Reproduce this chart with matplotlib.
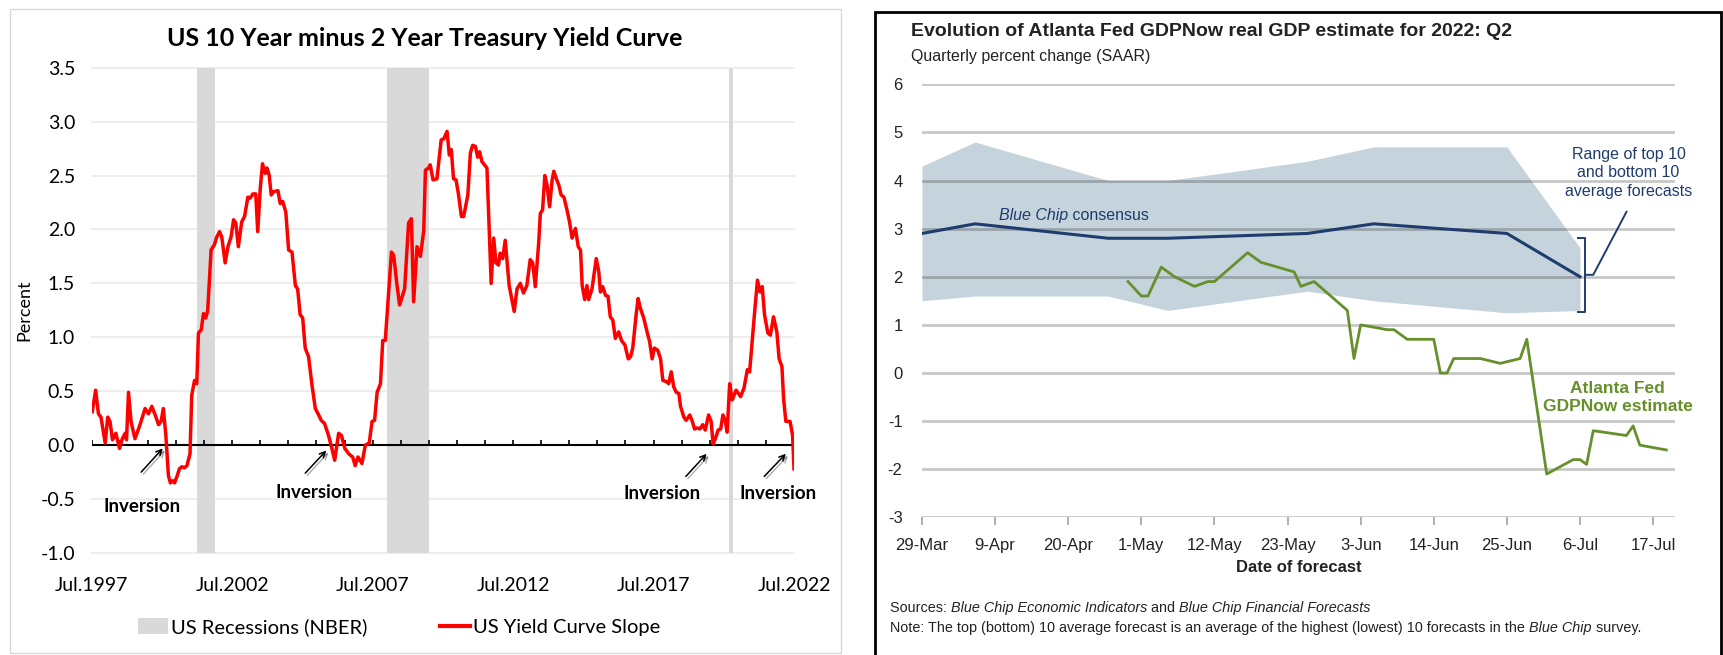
import matplotlib
matplotlib.use('Agg')
import numpy as np
import matplotlib.pyplot as plt
import matplotlib.dates as mdates
import matplotlib.patheffects as pe
from matplotlib.patches import Rectangle, Patch
from matplotlib.lines import Line2D

W, H = 1723, 655

NARROW = ['Lato', 'DejaVu Sans']
SANS = ['Liberation Sans', 'DejaVu Sans']

# ---- left chart: 10y minus 2y spread ----
yc_year = [
    1997.52, 1997.64, 1997.74, 1997.83, 1997.98, 1998.07, 1998.15, 1998.24, 1998.36, 1998.49,
    1998.59, 1998.69, 1998.74, 1998.81, 1998.90, 1999.04, 1999.22, 1999.40, 1999.52, 1999.64,
    1999.76, 1999.88, 1999.97, 2000.05, 2000.14, 2000.23, 2000.30, 2000.38, 2000.45, 2000.55,
    2000.62, 2000.71, 2000.80, 2000.89, 2001.00, 2001.06, 2001.16, 2001.24, 2001.30, 2001.40,
    2001.48, 2001.56, 2001.63, 2001.75, 2001.87, 2001.95, 2002.05, 2002.13, 2002.25, 2002.35,
    2002.46, 2002.55, 2002.63, 2002.72, 2002.84, 2002.94, 2003.06, 2003.14, 2003.24, 2003.34,
    2003.41, 2003.50, 2003.58, 2003.68, 2003.74, 2003.82, 2003.89, 2003.97, 2004.13, 2004.21,
    2004.30, 2004.41, 2004.51, 2004.63, 2004.75, 2004.83, 2004.92, 2005.01, 2005.10, 2005.22,
    2005.34, 2005.46, 2005.58, 2005.67, 2005.79, 2005.93, 2006.05, 2006.15, 2006.29, 2006.39,
    2006.51, 2006.65, 2006.79, 2006.88, 2006.98, 2007.12, 2007.24, 2007.38, 2007.48, 2007.57,
    2007.66, 2007.78, 2007.86, 2007.95, 2008.17, 2008.25, 2008.37, 2008.46, 2008.64, 2008.78,
    2008.88, 2008.96, 2009.08, 2009.20, 2009.32, 2009.38, 2009.49, 2009.55, 2009.65, 2009.79,
    2009.94, 2010.03, 2010.15, 2010.23, 2010.30, 2010.38, 2010.47, 2010.56, 2010.66, 2010.74,
    2010.89, 2010.98, 2011.06, 2011.16, 2011.24, 2011.31, 2011.39, 2011.57, 2011.72, 2011.81,
    2011.89, 2011.98, 2012.04, 2012.13, 2012.22, 2012.36, 2012.54, 2012.64, 2012.76, 2012.87,
    2012.99, 2013.11, 2013.20, 2013.29, 2013.41, 2013.47, 2013.55, 2013.63, 2013.71, 2013.80,
    2013.89, 2013.95, 2014.04, 2014.13, 2014.21, 2014.31, 2014.42, 2014.51, 2014.60, 2014.72,
    2014.82, 2014.90, 2014.96, 2015.05, 2015.13, 2015.19, 2015.31, 2015.46, 2015.55, 2015.61,
    2015.69, 2015.79, 2015.88, 2015.96, 2016.05, 2016.14, 2016.26, 2016.36, 2016.48, 2016.60,
    2016.68, 2016.76, 2016.88, 2016.95, 2017.03, 2017.15, 2017.27, 2017.36, 2017.45, 2017.53,
    2017.65, 2017.75, 2017.83, 2017.95, 2018.04, 2018.13, 2018.22, 2018.31, 2018.40, 2018.46,
    2018.58, 2018.66, 2018.79, 2018.88, 2018.96, 2019.05, 2019.15, 2019.25, 2019.34, 2019.46,
    2019.55, 2019.62, 2019.70, 2019.80, 2019.89, 2019.97, 2020.06, 2020.12, 2020.21, 2020.30,
    2020.44, 2020.60, 2020.72, 2020.84, 2020.92, 2021.01, 2021.11, 2021.20, 2021.29, 2021.37,
    2021.45, 2021.57, 2021.66, 2021.77, 2021.89, 2021.97, 2022.07, 2022.13, 2022.21, 2022.36,
    2022.45, 2022.50,
]
yc_value = [
    0.31, 0.51, 0.29, 0.26, 0.02, 0.26, 0.22, 0.05, 0.11, -0.03,
    0.06, 0.11, 0.05, 0.49, 0.22, 0.06, 0.19, 0.34, 0.29, 0.36,
    0.28, 0.19, 0.22, 0.34, 0.09, -0.28, -0.35, -0.33, -0.35, -0.28,
    -0.22, -0.20, -0.21, -0.19, -0.08, 0.46, 0.60, 0.57, 1.04, 1.07,
    1.22, 1.18, 1.25, 1.81, 1.86, 1.93, 1.98, 1.93, 1.69, 1.84,
    1.93, 2.09, 2.06, 1.84, 2.07, 2.12, 2.30, 2.29, 2.33, 2.33,
    1.98, 2.38, 2.61, 2.52, 2.57, 2.50, 2.32, 2.35, 2.36, 2.24,
    2.26, 2.16, 1.81, 1.79, 1.48, 1.45, 1.21, 1.18, 0.90, 0.82,
    0.56, 0.34, 0.28, 0.23, 0.20, 0.09, -0.03, -0.14, 0.11, 0.09,
    -0.03, -0.08, -0.11, -0.19, -0.11, -0.17, 0.00, 0.02, 0.22, 0.23,
    0.49, 0.57, 0.97, 0.97, 1.79, 1.76, 1.48, 1.30, 1.45, 2.06,
    2.10, 1.33, 1.84, 1.75, 1.99, 2.55, 2.57, 2.60, 2.46, 2.47,
    2.83, 2.84, 2.91, 2.69, 2.74, 2.47, 2.46, 2.32, 2.12, 2.12,
    2.32, 2.71, 2.78, 2.77, 2.67, 2.72, 2.63, 2.57, 1.50, 1.92,
    1.69, 1.67, 1.78, 1.73, 1.90, 1.48, 1.24, 1.45, 1.50, 1.41,
    1.48, 1.72, 1.69, 1.47, 1.87, 2.15, 2.18, 2.50, 2.41, 2.21,
    2.46, 2.54, 2.47, 2.41, 2.32, 2.30, 2.18, 2.07, 1.92, 2.01,
    1.84, 1.81, 1.48, 1.35, 1.48, 1.35, 1.45, 1.73, 1.61, 1.42,
    1.47, 1.39, 1.38, 1.19, 1.16, 0.99, 1.05, 0.97, 0.93, 0.80,
    0.82, 0.90, 1.21, 1.36, 1.27, 1.18, 1.05, 0.96, 0.80, 0.90,
    0.88, 0.80, 0.60, 0.59, 0.57, 0.68, 0.54, 0.49, 0.48, 0.36,
    0.26, 0.23, 0.28, 0.22, 0.15, 0.16, 0.15, 0.19, 0.14, 0.28,
    0.22, 0.01, 0.06, 0.14, 0.15, 0.28, 0.22, 0.12, 0.57, 0.42,
    0.51, 0.45, 0.53, 0.70, 0.68, 0.96, 1.27, 1.53, 1.42, 1.47,
    1.21, 1.04, 1.02, 1.19, 1.05, 0.80, 0.73, 0.43, 0.22, 0.22,
    0.09, -0.22,
]
recessions = [(2001.25, 2001.90), (2008.00, 2009.50), (2020.17, 2020.33)]
yc_xticks = [1997.5, 2002.5, 2007.5, 2012.5, 2017.5, 2022.5]
yc_xlabels = ['Jul.1997', 'Jul.2002', 'Jul.2007', 'Jul.2012', 'Jul.2017', 'Jul.2022']
# (arrow tail, arrow head, label position)
inversions = [
    ((1999.26, -0.25), (2000.03, -0.03), (1999.30, -0.57)),
    ((2005.10, -0.26), (2005.85, -0.05), (2005.41, -0.44)),
    ((2018.65, -0.29), (2019.39, -0.08), (2017.81, -0.45)),
    ((2021.44, -0.29), (2022.21, -0.08), (2021.92, -0.45)),
]

# ---- right chart: GDPNow vs Blue Chip ----
bc_dates = ['2022-03-29', '2022-04-06', '2022-04-26', '2022-05-05',
            '2022-05-26', '2022-06-05', '2022-06-25', '2022-07-06']
bc_top10 = [4.3, 4.8, 4.0, 4.0, 4.4, 4.7, 4.7, 2.6]
bc_bottom10 = [1.5, 1.6, 1.6, 1.3, 1.7, 1.5, 1.25, 1.3]
bc_consensus = [2.9, 3.1, 2.8, 2.8, 2.9, 3.1, 2.9, 2.0]

gdpnow_dates = ['2022-04-29', '2022-05-01', '2022-05-02', '2022-05-04', '2022-05-06',
                '2022-05-09', '2022-05-11', '2022-05-12', '2022-05-17', '2022-05-19',
                '2022-05-24', '2022-05-25', '2022-05-27', '2022-06-01', '2022-06-02',
                '2022-06-03', '2022-06-07', '2022-06-08', '2022-06-10', '2022-06-14',
                '2022-06-15', '2022-06-16', '2022-06-17', '2022-06-21', '2022-06-24',
                '2022-06-27', '2022-06-28', '2022-07-01', '2022-07-03', '2022-07-05',
                '2022-07-06', '2022-07-07', '2022-07-08', '2022-07-13', '2022-07-14',
                '2022-07-15', '2022-07-19']
gdpnow = [1.9, 1.6, 1.6, 2.2, 2.0,
          1.8, 1.9, 1.9, 2.5, 2.3,
          2.1, 1.8, 1.9, 1.3, 0.3,
          1.0, 0.9, 0.9, 0.7, 0.7,
          0.0, 0.0, 0.3, 0.3, 0.2,
          0.3, 0.7, -2.1, -1.95, -1.8,
          -1.8, -1.9, -1.2, -1.3, -1.1,
          -1.5, -1.6]
gdp_tick_dates = ['2022-03-29', '2022-04-09', '2022-04-20', '2022-05-01', '2022-05-12',
                  '2022-05-23', '2022-06-03', '2022-06-14', '2022-06-25', '2022-07-06',
                  '2022-07-17']
gdp_tick_labels = ['29-Mar', '9-Apr', '20-Apr', '1-May', '12-May', '23-May',
                   '3-Jun', '14-Jun', '25-Jun', '6-Jul', '17-Jul']

NAVY = '#1f3c6e'
GREEN = '#66902c'
BAND = '#c5d3dc'


def fx(px):
    return px / W


def fy(py):
    return 1 - py / H


def rich_text(fig, x, y, parts, **kw):
    # write pieces of text one after another (mixed italic/regular)
    renderer = fig.canvas.get_renderer()
    for s, style in parts:
        t = fig.text(x, y, s, style=style, **kw)
        bb = t.get_window_extent(renderer)
        x += bb.width / fig.bbox.width


fig = plt.figure(figsize=(W / 100, H / 100), dpi=100)

# ================= left panel =================
fig.add_artist(Rectangle((fx(10), fy(653)), fx(841) - fx(10), fy(9) - fy(653),
                         transform=fig.transFigure, fill=False, edgecolor='#d9d9d9', lw=1))
ax1 = fig.add_axes([fx(91.7), fy(553), fx(794) - fx(91.7), fy(67.7) - fy(553)])
for a, b in recessions:
    ax1.axvspan(a, b, color='#d9d9d9', lw=0, zorder=1)
for v in np.arange(-1, 3.51, 0.5):
    if abs(v) > 1e-9:
        ax1.axhline(v, color='#eeeeee', lw=1.5, zorder=0, clip_on=False)
ax1.axhline(0, color='black', lw=1.5, zorder=2)
ax1.vlines(np.arange(1997.5, 2022.6, 1.0), 0, 0.045, color='black', lw=1.2, zorder=2)
ax1.plot(yc_year, yc_value, color='#ff0000', lw=2.5, zorder=3, solid_joinstyle='round')
ax1.set_xlim(1997.5, 2022.5)
ax1.set_ylim(-1, 3.5)
for s in ax1.spines.values():
    s.set_visible(False)
ax1.set_yticks(np.arange(-1, 3.51, 0.5))
ax1.set_yticklabels(['%.1f' % v for v in np.arange(-1, 3.51, 0.5)], family=NARROW, fontsize=14)
ax1.set_xticks(yc_xticks)
ax1.set_xticklabels(yc_xlabels, family=NARROW, fontsize=14)
ax1.tick_params(axis='y', length=0, pad=12)
ax1.tick_params(axis='x', length=0, pad=17)
ax1.set_ylabel('Percent', family=NARROW, fontsize=13, labelpad=6)

for tail, head, lab in inversions:
    ax1.annotate('', xy=head, xytext=tail,
                 arrowprops=dict(arrowstyle='->', color='black', lw=1.1, shrinkA=0, shrinkB=0,
                                 path_effects=[pe.SimpleLineShadow(offset=(1.5, -1.5), alpha=0.3),
                                               pe.Normal()]),
                 annotation_clip=False)
    ax1.text(lab[0], lab[1], 'Inversion', ha='center', va='center', family=NARROW,
             fontsize=13.5, fontweight='bold', clip_on=False)

fig.text(fx(425), fy(38), 'US 10 Year minus 2 Year Treasury Yield Curve', ha='center', va='center',
         family=NARROW, fontsize=18, fontweight='bold')

handles = [Patch(facecolor='#d9d9d9', edgecolor='none'),
           Line2D([], [], color='#ff0000', lw=3)]
fig.legend(handles, ['US Recessions (NBER)', 'US Yield Curve Slope'], loc='center',
           bbox_to_anchor=(fx(399), fy(627)), ncol=2, frameon=False,
           prop=dict(family=NARROW, size=14.5), handlelength=1.5, handleheight=0.8,
           handletextpad=0.15, columnspacing=3.6)

# ================= right panel =================
fig.add_artist(Rectangle((fx(875), fy(665)), fx(1721) - fx(875), fy(12) - fy(665),
                         transform=fig.transFigure, fill=False, edgecolor='black', lw=2))
ax2 = fig.add_axes([fx(922), fy(517.3), fx(1675) - fx(922), fy(84.3) - fy(517.3)])
bc_x = mdates.datestr2num(bc_dates)
gn_x = mdates.datestr2num(gdpnow_dates)
tk_x = mdates.datestr2num(gdp_tick_dates)
x0 = tk_x[0]

ax2.fill_between(bc_x, bc_bottom10, bc_top10, color=BAND, lw=0, zorder=1)
for v in range(-3, 7):
    ax2.axhline(v, color='black', alpha=0.22, lw=2, zorder=2)
ax2.plot(bc_x, bc_consensus, color=NAVY, lw=2.2, zorder=3)
ax2.plot(gn_x, gdpnow, color=GREEN, lw=2.0, zorder=3)

ax2.set_xlim(x0, x0 + 113.3)
ax2.set_ylim(-3, 6)
for s in ax2.spines.values():
    s.set_visible(False)
ax2.set_yticks(range(-3, 7))
ax2.set_yticklabels([str(v) for v in range(-3, 7)], family=SANS, fontsize=12, color='#222222')
ax2.set_xticks(tk_x)
ax2.set_xticklabels(gdp_tick_labels, family=SANS, fontsize=12, color='#222222')
ax2.tick_params(axis='y', length=0, pad=14)
ax2.tick_params(axis='x', length=6, width=1.3, color='#aaaaaa', pad=9)

# bracket marking the top/bottom 10 range on the last date
bx = bc_x[-1] + 0.8
ax2.plot([bx - 1.1, bx, bx, bx - 1.1], [2.8, 2.8, 1.27, 1.27], color=NAVY, lw=1.4, zorder=4)
ax2.plot([bx, bx + 1.2, bx + 6.2], [2.04, 2.04, 3.35], color=NAVY, lw=1.4, zorder=4)
ax2.text(x0 + 106.3, 4.16, 'Range of top 10\nand bottom 10\naverage forecasts', ha='center',
         va='center', family=SANS, fontsize=11.5, color=NAVY, linespacing=1.3)
ax2.text(x0 + 104.7, -0.51, 'Atlanta Fed\nGDPNow estimate', ha='center', va='center',
         family=SANS, fontsize=12.5, fontweight='bold', color=GREEN, linespacing=1.25)

fig.text(fx(1298.5), fy(568), 'Date of forecast', ha='center', va='center', family=SANS,
         fontsize=12, fontweight='bold', color='#222222')
fig.text(fx(911), fy(32), 'Evolution of Atlanta Fed GDPNow real GDP estimate for 2022: Q2',
         ha='left', va='center', family=SANS, fontsize=14, fontweight='bold', color='#222222')
fig.text(fx(911), fy(57), 'Quarterly percent change (SAAR)', ha='left', va='center', family=SANS,
         fontsize=11.5, color='#222222')

# "Blue Chip consensus" label, placed in figure coords
px, py = ax2.transData.transform((x0 + 11.6, 3.28))
bx_f, by_f = fig.transFigure.inverted().transform((px, py))
rich_text(fig, bx_f, by_f, [('Blue Chip', 'italic'), (' consensus', 'normal')],
          va='center', family=SANS, fontsize=11.5, color=NAVY)

rich_text(fig, fx(890), fy(608),
          [('Sources: ', 'normal'), ('Blue Chip Economic Indicators', 'italic'), (' and ', 'normal'),
           ('Blue Chip Financial Forecasts', 'italic')],
          va='center', family=SANS, fontsize=10.4, color='#222222')
rich_text(fig, fx(890), fy(628),
          [('Note: ', 'normal'),
           ('The top (bottom) 10 average forecast is an average of the highest (lowest) 10 forecasts in the ', 'normal'),
           ('Blue Chip', 'italic'), (' survey.', 'normal')],
          va='center', family=SANS, fontsize=10.4, color='#222222')

fig.savefig('out.png', dpi=100)
